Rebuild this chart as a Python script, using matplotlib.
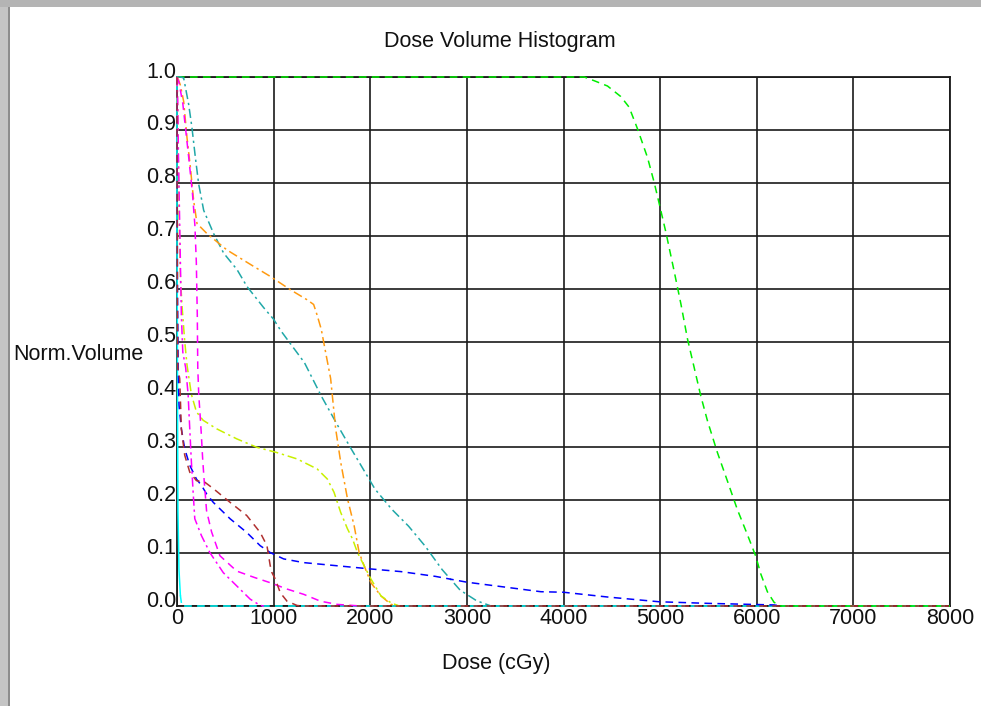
import matplotlib
matplotlib.use("Agg")
import matplotlib.pyplot as plt
from matplotlib.patches import Rectangle

plt.rcParams['font.family'] = ['Liberation Sans', 'DejaVu Sans']

title = "Dose Volume Histogram"
xlabel = "Dose (cGy)"
ylabel = "Norm.Volume"
xticks = [0, 1000, 2000, 3000, 4000, 5000, 6000, 7000, 8000]
yticks = [0.0, 0.1, 0.2, 0.3, 0.4, 0.5, 0.6, 0.7, 0.8, 0.9, 1.0]

# Cyan
cyan_dose = [0, 0, 3, 6, 10, 20, 35, 50, 8000]
cyan_vol = [1.0, 0.70, 0.55, 0.35, 0.18, 0.07, 0.02, 0.0, 0.0]

# Green (target)
green_dose = [0, 4214, 4317, 4455, 4593, 4679, 4766, 4869, 4938, 4990, 5059, 5145, 5214,
              5283, 5352, 5421, 5490, 5593, 5697, 5800, 5903, 5990, 6041, 6110, 6179, 6248, 8000]
green_vol = [1.0, 1.0, 0.993, 0.983, 0.963, 0.943, 0.902, 0.848, 0.801, 0.761, 0.707, 0.633, 0.572,
             0.505, 0.451, 0.397, 0.350, 0.290, 0.236, 0.182, 0.135, 0.094, 0.061, 0.027, 0.007, 0.0, 0.0]

# Teal
teal_dose = [0, 40, 69, 121, 155, 190, 224, 276, 379, 483, 621, 724, 897, 1000, 1076, 1319, 1493,
             1667, 1806, 1910, 2049, 2222, 2396, 2569, 2743, 2930, 3100, 3250]
teal_vol = [1.0, 1.0, 0.998, 0.948, 0.904, 0.848, 0.798, 0.748, 0.704, 0.667, 0.636, 0.604, 0.564,
            0.542, 0.520, 0.460, 0.397, 0.340, 0.296, 0.264, 0.221, 0.183, 0.151, 0.113, 0.069,
            0.030, 0.010, 0.0]

# Orange
orange_dose = [0, 15, 34, 69, 103, 138, 172, 207, 310, 517, 793, 966, 1172, 1345, 1414, 1450,
               1493, 1545, 1590, 1642, 1694, 1764, 1833, 1885, 1937, 2007, 2111, 2215, 2300]
orange_vol = [1.0, 0.995, 0.985, 0.954, 0.886, 0.830, 0.767, 0.723, 0.704, 0.673, 0.642, 0.623,
              0.598, 0.579, 0.570, 0.550, 0.523, 0.473, 0.430, 0.335, 0.272, 0.203, 0.152, 0.101,
              0.076, 0.044, 0.019, 0.003, 0.0]

# Yellow-green
yg_dose = [0, 10, 20, 35, 55, 80, 104, 149, 201, 271, 410, 618, 826, 1035, 1243, 1451, 1556,
           1625, 1694, 1764, 1816, 1868, 1937, 2007, 2111, 2215, 2300]
yg_vol = [1.0, 0.90, 0.75, 0.62, 0.56, 0.50, 0.455, 0.400, 0.367, 0.351, 0.335, 0.316, 0.300,
          0.290, 0.278, 0.259, 0.240, 0.215, 0.177, 0.146, 0.127, 0.101, 0.076, 0.051, 0.019,
          0.006, 0.0]

# Blue
blue_dose = [0, 5, 12, 21, 45, 80, 132, 201, 253, 306, 375, 549, 722, 861, 965, 1104, 1312,
             1660, 2007, 2319, 2674, 3000, 3766, 4000, 4455, 4990, 5490, 6179, 6250]
blue_vol = [1.0, 0.60, 0.45, 0.380, 0.335, 0.297, 0.266, 0.240, 0.228, 0.212, 0.196, 0.165,
            0.139, 0.114, 0.101, 0.089, 0.082, 0.076, 0.070, 0.065, 0.056, 0.045, 0.027, 0.026,
            0.017, 0.008, 0.005, 0.002, 0.0]

# Magenta (dashed)
mag1_dose = [0, 20, 60, 120, 160, 185, 200, 210, 215, 225, 250, 265, 280, 306, 358, 444, 618,
             800, 965, 1139, 1312, 1486, 1660, 1900]
mag1_vol = [1.0, 0.99, 0.95, 0.85, 0.78, 0.72, 0.65, 0.55, 0.45, 0.40, 0.33, 0.28, 0.24, 0.18,
            0.14, 0.095, 0.066, 0.054, 0.044, 0.032, 0.022, 0.009, 0.003, 0.0]

# Magenta (dash-dot)
mag2_dose = [0, 8, 15, 25, 35, 45, 60, 90, 115, 132, 149, 167, 184, 253, 340, 479, 618, 757,
             861, 900]
mag2_vol = [1.0, 0.95, 0.85, 0.75, 0.65, 0.55, 0.48, 0.45, 0.40, 0.335, 0.272, 0.215, 0.165,
            0.133, 0.101, 0.063, 0.038, 0.013, 0.001, 0.0]

# Brown
brown_dose = [0, 0, 2, 4, 8, 28, 45, 80, 132, 201, 288, 375, 549, 722, 861, 931, 965, 983, 1017,
              1069, 1139, 1243, 1300, 8000]
brown_vol = [1.0, 0.85, 0.70, 0.55, 0.45, 0.43, 0.335, 0.285, 0.253, 0.237, 0.234, 0.222, 0.196,
             0.171, 0.139, 0.114, 0.076, 0.063, 0.051, 0.025, 0.009, 0.001, 0.0, 0.0]

W, H = 981, 706
fig = plt.figure(figsize=(W / 100, H / 100), dpi=100)
fig.patch.set_facecolor('white')

# window frame bits
fig.add_artist(Rectangle((0, 1 - 7 / H), 1, 7 / H, transform=fig.transFigure,
                         facecolor='#b4b4b4', edgecolor='none'))
fig.add_artist(Rectangle((0, 0), 8 / W, 1 - 7 / H, transform=fig.transFigure,
                         facecolor='#c4c4c4', edgecolor='none'))
fig.add_artist(Rectangle((8 / W, 0), 1.5 / W, 1 - 7 / H, transform=fig.transFigure,
                         facecolor='#8c8c8c', edgecolor='none'))

x0, x1, y0, y1 = 177, 950, 77, 606
ax = fig.add_axes([x0 / W, 1 - y1 / H, (x1 - x0) / W, (y1 - y0) / H])
ax.set_xlim(0, 8000)
ax.set_ylim(0, 1.0)
ax.set_xticks(xticks)
ax.set_yticks(yticks)
ax.tick_params(length=0, labelbottom=False, labelleft=False)
ax.grid(True, color='#1a1a1a', linewidth=1.2)
ax.set_axisbelow(True)
for s in ax.spines.values():
    s.set_color('#1a1a1a')
    s.set_linewidth(1.3)

fs = 15.5
for t in xticks:
    ax.text(t, -0.003, str(t), ha='center', va='top', fontsize=fs, color='#111111',
            clip_on=False)
for t in yticks:
    ax.text(-5, t - 0.001, f"{t:.1f}", ha='right', va='baseline', fontsize=fs,
            color='#111111', clip_on=False)

fig.text(500 / W, 1 - 42 / H, title, ha='center', va='center', fontsize=fs, color='#111111')
fig.text(496 / W, 1 - 664 / H, xlabel, ha='center', va='center', fontsize=fs, color='#111111')
fig.text(13 / W, 1 - 354 / H, ylabel, ha='left', va='center', fontsize=fs, color='#111111')

lw = 1.1
dash = (0, (5, 3.5))
dashdot = (0, (6, 2.5, 1.5, 2.5))
kw = dict(lw=lw, clip_on=False, zorder=3)

ax.plot(cyan_dose[:7], cyan_vol[:7], color='#00ffff', linestyle='-', **kw)
ax.plot(cyan_dose[6:], cyan_vol[6:], color='#00ffff', linestyle=dash, **kw)
ax.plot(green_dose, green_vol, color='#00ee00', linestyle=dash, **kw)
ax.plot(teal_dose, teal_vol, color='#20a8a8', linestyle=dashdot, **kw)
ax.plot(orange_dose, orange_vol, color='#ff9a10', linestyle=dashdot, **kw)
ax.plot(yg_dose, yg_vol, color='#c8f000', linestyle=dashdot, **kw)
ax.plot(blue_dose, blue_vol, color='#0000ff', linestyle=dash, **kw)
ax.plot(mag1_dose, mag1_vol, color='#ff00ff', linestyle=dash, **kw)
ax.plot(mag2_dose, mag2_vol, color='#ff00ff', linestyle=dashdot, **kw)
ax.plot(brown_dose, brown_vol, color='#b03030', linestyle=dash, **kw)

fig.savefig('out.png', dpi=100)
